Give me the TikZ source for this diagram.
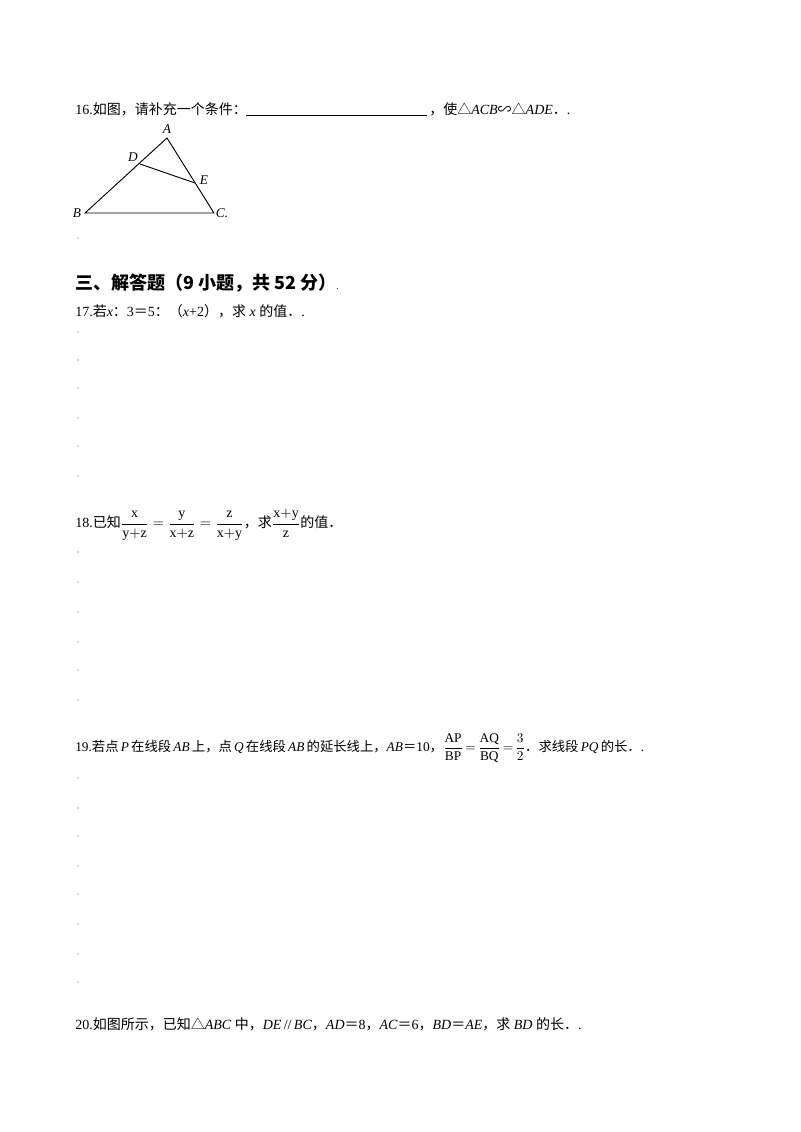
\documentclass[tikz,border=0pt]{standalone}
\usepackage{amsmath}
\usepackage{fontspec}
\setmainfont{Liberation Serif}
\newfontfamily\cjk{Noto Sans CJK SC}
\newcommand{\C}[1]{{\cjk #1}}
\begin{document}
\begin{tikzpicture}[x=0.75pt,y=-0.75pt,
  txt/.style={anchor=base west,inner sep=0pt,font=\fontsize{10.5}{12}\selectfont},
  lbl/.style={inner sep=0pt,font=\fontsize{10}{12}\selectfont\itshape},
  dotm/.style={fill=gray!60,draw=none}]
\useasboundingbox (0,0) rectangle (800,1132);
% Q16
\node[txt] (t16a) at (75,114) {16.\C{如图，请补充一个条件：}};
\coordinate (u1) at (246,115); \coordinate (u2) at (427,115);
\draw[line width=0.7pt] (u1) -- (u2);
\node[txt] (t16b) at (429,114) {\C{，使△}\textit{ACB}\C{∽△}\textit{ADE}\C{．}.};
\coordinate (A) at (167,138); \coordinate (D) at (140,164);
\coordinate (E) at (195,183); \coordinate (B) at (85,213); \coordinate (C) at (214,213);
\draw[line width=0.7pt] (A) -- (B) -- (C) -- cycle;
\draw[line width=0.7pt] (D) -- (E);
\node[lbl] (lA) at (167,129) {A};
\node[lbl] (lD) at (133,157) {D};
\node[lbl] (lE) at (204,180) {E};
\node[lbl] (lB) at (77,213) {B};
\node[lbl] (lC) at (222,213) {C.};
% heading
\node[txt,font=\fontsize{13.5}{15}\selectfont\bfseries] (h) at (75,289) {\C{三、解答题（9 小题，共 52 分）}\tiny .};
% Q17
\node[txt] (t17) at (75,316) {17.\C{若}\textit{x}\C{：}3\C{＝}5\C{：（}\textit{x}+2\C{），求} \textit{x} \C{的值．}.};
% Q18
\node[txt,anchor=west] (t18) at (75,525) {18.\C{已知}$\dfrac{\mathrm{x}}{\mathrm{y{+}z}}=\dfrac{\mathrm{y}}{\mathrm{x{+}z}}=\dfrac{\mathrm{z}}{\mathrm{x{+}y}}$\C{，求}$\dfrac{\mathrm{x{+}y}}{\mathrm{z}}$\C{的值．}};
% Q19
\node[txt,anchor=west,font=\fontsize{10}{12}\selectfont] (t19) at (75,748) {19.\C{若点}\,\textit{P}\,\C{在线段}\,\textit{AB}\,\C{上，点}\,\textit{Q}\,\C{在线段}\,\textit{AB}\,\C{的延长线上，}\textit{AB}\C{＝}10\C{，}$\dfrac{\mathrm{AP}}{\mathrm{BP}}\,{=}\,\dfrac{\mathrm{AQ}}{\mathrm{BQ}}\,{=}\,\dfrac{3}{2}$\C{．求线段}\,\textit{PQ}\,\C{的长．}.};
% Q20
\node[txt] (t20) at (75,1029) {20.\C{如图所示，已知△}\textit{ABC} \C{中，}\textit{DE}\,//\,\textit{BC}\C{，}\textit{AD}\C{＝}8\C{，}\textit{AC}\C{＝}6\C{，}\textit{BD}\C{＝}\textit{AE}\C{，求} \textit{BD} \C{的长．}.};
% dots
\foreach \yy in {238,332,360,388,418,446,476,552,582,612,642,670,700,778,808,836,866,894,924,954,982}
  \fill[dotm] (78,\yy) circle (0.8);
\end{tikzpicture}
\end{document}
